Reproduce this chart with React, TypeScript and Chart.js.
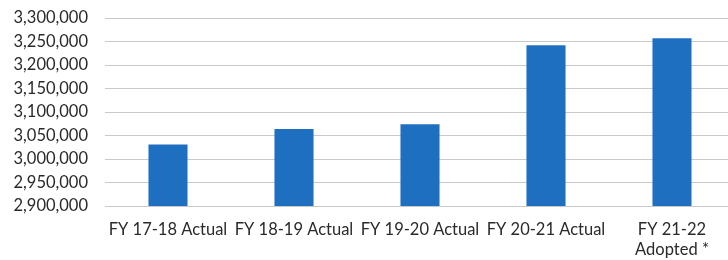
import React, { useEffect, useRef } from "react";
import { Chart, registerables } from "chart.js";

Chart.register(...registerables);

const categories: (string | string[])[] = [
  "FY 17-18 Actual",
  "FY 18-19 Actual",
  "FY 19-20 Actual",
  "FY 20-21 Actual",
  ["FY 21-22", "Adopted *"],
];
const values = [3031000, 3064000, 3074000, 3242000, 3257000];
const yMin = 2900000;
const yMax = 3300000;
const yStep = 50000;

export default function App() {
  const ref = useRef<HTMLCanvasElement>(null);
  useEffect(() => {
    if (!ref.current) return;
    const font = { family: "Lato, 'Open Sans', sans-serif", size: 16.5 };
    const chart = new Chart(ref.current, {
      type: "bar",
      data: {
        labels: categories,
        datasets: [
          {
            data: values,
            backgroundColor: "#1f6fc1",
            borderWidth: 0,
            categoryPercentage: 1,
            barPercentage: 0.31,
          },
        ],
      },
      options: {
        responsive: false,
        animation: false,
        layout: { padding: { top: 0, right: 5, left: 0, bottom: 0 } },
        plugins: { legend: { display: false }, tooltip: { enabled: false } },
        scales: {
          x: {
            grid: { display: false, drawTicks: false },
            border: { display: false },
            ticks: { font, color: "#2a2a2a", padding: 14, maxRotation: 0, autoSkip: false },
            afterFit: (s: any) => {
              s.height = 54;
            },
          },
          y: {
            min: yMin,
            max: yMax,
            grid: { color: "#c9c9c9", lineWidth: 1, drawTicks: false },
            border: { display: false },
            ticks: {
              stepSize: yStep,
              font,
              autoSkip: false,
              color: "#2a2a2a",
              padding: 17,
              callback: (v: any) => Number(v).toLocaleString("en-US"),
            },
            afterFit: (s: any) => {
              s.width = 105;
              s.paddingTop = 18;
              s.paddingBottom = 10;
            },
          },
        },
      },
    });
    return () => chart.destroy();
  }, []);
  return (
    <div
      style={{
        position: "fixed",
        left: 0,
        top: 0,
        width: 728,
        height: 260,
        overflow: "hidden",
        background: "#fff",
      }}
    >
      <canvas ref={ref} width={740} height={260} style={{ display: "block" }} />
    </div>
  );
}
